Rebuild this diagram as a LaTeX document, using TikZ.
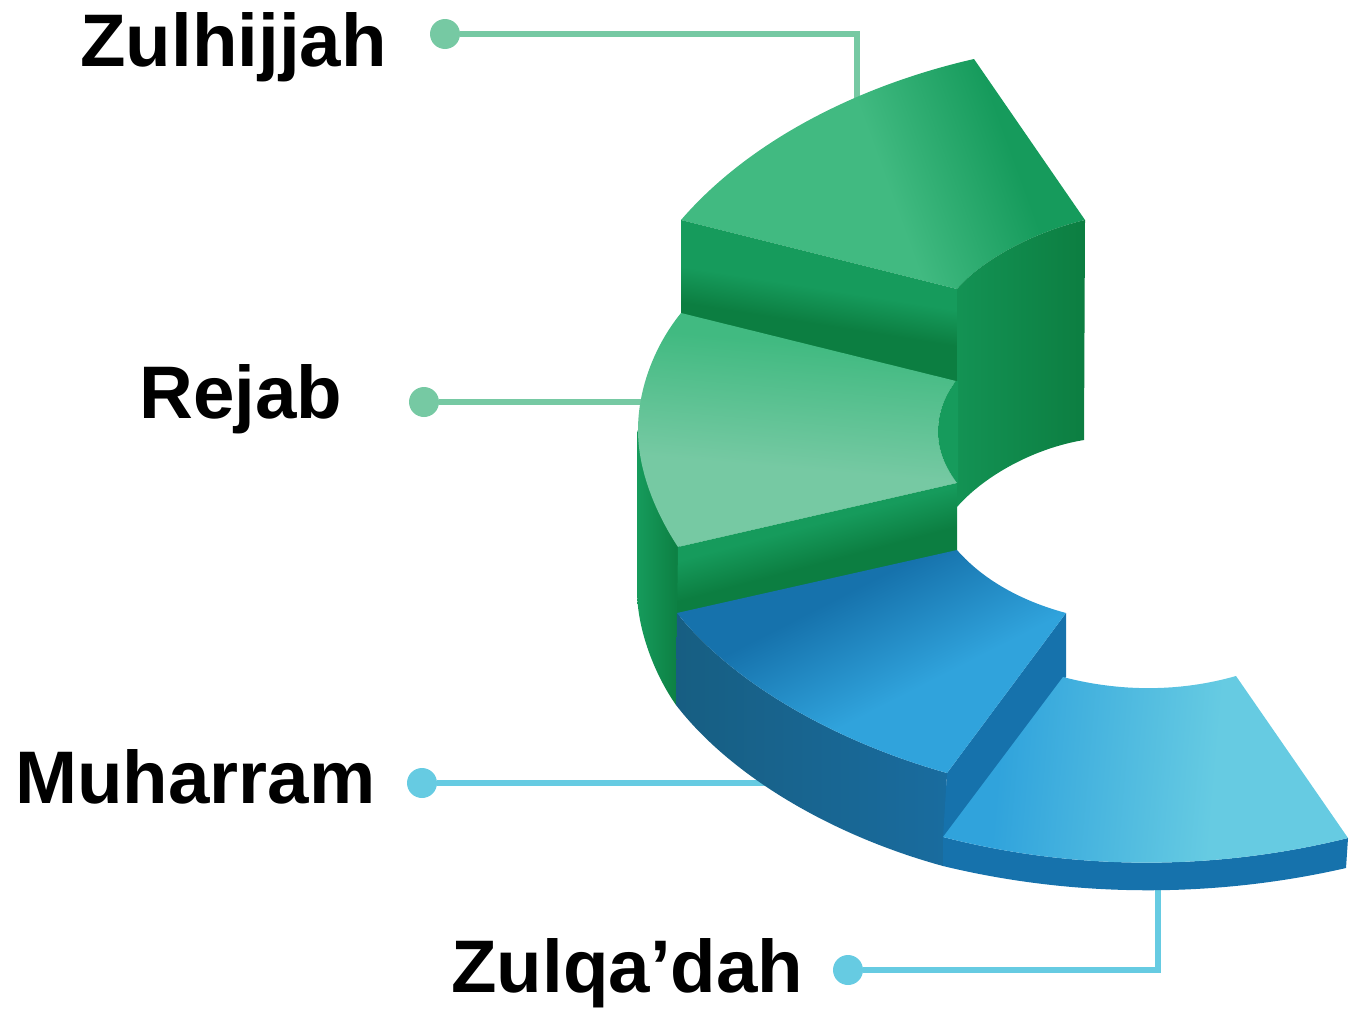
\documentclass[tikz,border=0pt]{standalone}
\usepackage{xcolor}
\usepackage{fontspec}
\setmainfont{Liberation Sans}
\usetikzlibrary{shapes.geometric}
\definecolor{mintline}{HTML}{76C9A3}
\definecolor{skyline}{HTML}{66CBE2}
\definecolor{greenlight}{HTML}{41BA81}
\definecolor{greenmid}{HTML}{169B5C}
\definecolor{greendark}{HTML}{0C7E41}
\definecolor{bluedark}{HTML}{1672AC}
\definecolor{bluelight}{HTML}{30A3DC}
\definecolor{bluedeep}{HTML}{175E82}
\definecolor{blueside}{HTML}{196C9F}
\pgfdeclareverticalshading{zulhijjahtop}{100bp}{color(0bp)=(greenlight); color(50bp)=(greenlight); color(68bp)=(greenmid); color(100bp)=(greenmid)}
\pgfdeclareverticalshading{zulhijjahfront}{100bp}{color(0bp)=(greendark); color(44bp)=(greendark); color(54bp)=(greenmid); color(100bp)=(greenmid)}
\pgfdeclareverticalshading{rejabtop}{100bp}{color(0bp)=(mintline); color(42bp)=(mintline); color(68bp)=(greenlight); color(100bp)=(greenlight)}
\pgfdeclareverticalshading{rejabfront}{100bp}{color(0bp)=(greendark); color(46bp)=(greendark); color(58bp)=(greenmid); color(100bp)=(greenmid)}
\pgfdeclareverticalshading{muharramtop}{100bp}{color(0bp)=(bluelight); color(42bp)=(bluelight); color(63bp)=(bluedark); color(100bp)=(bluedark)}
\pgfdeclareverticalshading{zulqadahtop}{100bp}{color(0bp)=(bluelight); color(31bp)=(bluelight); color(59bp)=(skyline); color(100bp)=(skyline)}
\tikzstyle{month} = [anchor=base west, inner sep=0pt, font=\fontsize{42.4}{50}\selectfont\bfseries, text=black]
\tikzstyle{mintdot} = [circle, minimum size=0.6cm, inner sep=0pt, fill=mintline]
\tikzstyle{skydot} = [circle, minimum size=0.6cm, inner sep=0pt, fill=skyline]
\tikzstyle{mintleader} = [line width=3.8pt, draw=mintline]
\tikzstyle{skyleader} = [line width=3.8pt, draw=skyline]

\begin{document}
\begin{tikzpicture}[x=0.02cm, y=-0.02cm]
\useasboundingbox (0,0) rectangle (1349,1008);

% labels and dots
\node (zulhijjah) [month] at (80,66) {Zulhijjah};
\node (rejab) [month] at (139,418) {Rejab};
\node (muharram) [month] at (15,803) {Muharram};
\node (zulqadah) [month] at (451,992) {Zulqa’dah};
\node (zulhijjahdot) [mintdot] at (445,34) {};
\node (rejabdot) [mintdot] at (424,402) {};
\node (muharramdot) [skydot] at (422,783) {};
\node (zulqadahdot) [skydot] at (848,970) {};
\coordinate (zulhijjahend) at (857,100);
\coordinate (rejabend) at (645,402);
\coordinate (muharramend) at (770,783);
\coordinate (zulqadahend) at (1158,885);

\draw[mintleader] (zulhijjahdot) -| (zulhijjahend);
\draw[mintleader] (rejabdot) -- (rejabend);
\draw[skyleader] (muharramdot) -- (muharramend);
\draw[skyleader] (zulqadahdot) -| (zulqadahend);

% green part
\shade[left color=greenmid, right color=greendark] (637,430) -- (637,590) .. controls (637,630) and (655,675) .. (676,705) -- (680,613) -- (680,547) -- cycle;
\shade[shading=zulhijjahtop, shading angle=-70] (681,220) .. controls (750,140) and (860,85) .. (974,59) -- (1085,220) .. controls (1030,233) and (980,262) .. (957,289) -- cycle;
\shade[shading=zulhijjahfront, shading angle=-9] (681,220) -- (957,289) -- (957,385) -- (681,317) -- cycle;
\shade[left color=greenmid!70!greendark, right color=greendark] (957,289) .. controls (980,262) and (1030,233) .. (1085,220) -- (1084,440) .. controls (1035,448) and (985,475) .. (957,507) -- cycle;
\shade[shading=rejabtop, shading angle=-5] (681,313) -- (956,381) .. controls (945,395) and (938,412) .. (938,432) .. controls (938,450) and (945,467) .. (957,483) -- (678,547) .. controls (655,512) and (638,470) .. (638,430) .. controls (638,388) and (655,345) .. (681,313) -- cycle;
\fill[greenmid] (956,381) -- (958,381) -- (958,483) -- (957,483) .. controls (945,467) and (938,450) .. (938,432) .. controls (938,412) and (945,395) .. (956,381) -- cycle;
\shade[shading=rejabfront, shading angle=15] (678,547) -- (957,483) -- (957,555) -- (677,618) -- cycle;

% blue part
\shade[top color=bluedeep, bottom color=blueside, shading angle=90] (677,613) .. controls (730,680) and (830,740) .. (947,773) -- (943,866) .. controls (830,835) and (730,775) .. (676,705) -- cycle;
\fill[bluedark] (947,773) -- (1066,613) -- (1066,677) -- (943,838) -- cycle;
\shade[shading=muharramtop, shading angle=27] (677,613) -- (957,550) .. controls (985,582) and (1025,602) .. (1066,613) -- (947,773) .. controls (830,740) and (730,680) .. (677,613) -- cycle;
\fill[bluedark] (943,837) .. controls (1075,871) and (1215,871) .. (1348,838) -- (1346,868) .. controls (1215,898) and (1075,898) .. (943,866) -- cycle;
\shade[shading=zulqadahtop, shading angle=-95] (943,837) -- (1063,677) .. controls (1120,692) and (1180,692) .. (1236,676) -- (1348,838) .. controls (1215,871) and (1075,871) .. (943,837) -- cycle;
\end{tikzpicture}
\end{document}
